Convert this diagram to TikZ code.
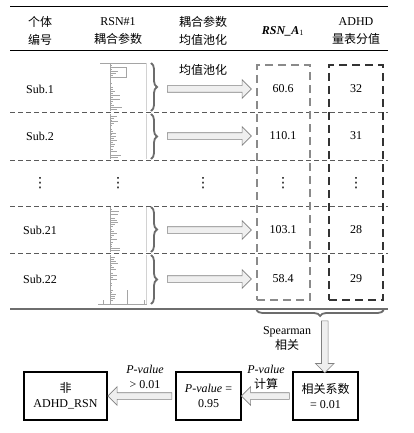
\documentclass[tikz,border=0pt]{standalone}
\usepackage{fontspec}
\setmainfont{Liberation Serif}
\newfontfamily\cjk{Noto Sans CJK SC}
\newfontfamily\sym{DejaVu Sans}
\usepackage{xcolor}
\usetikzlibrary{shapes.arrows, decorations.pathreplacing, calc, positioning}
\definecolor{ruleGray}{HTML}{6E6E6E}
\definecolor{gridGray}{HTML}{5A5A5A}
\definecolor{arrowFill}{HTML}{EFEFEF}
\definecolor{plotGray}{HTML}{A5A5A5}
\definecolor{boxGray}{HTML}{8A8A8A}

\begin{document}
\begin{tikzpicture}[x=1pt, y=-1pt,
    txt/.style={font=\fontsize{12}{18}\selectfont, align=center, inner sep=1pt},
    lbl/.style={font=\fontsize{12}{15}\selectfont, align=center, inner sep=1pt},
    dotsym/.style={font=\sym\fontsize{14}{14}\selectfont, inner sep=0pt},
    valbox/.style={draw, line width=1.4pt, minimum width=65pt, minimum height=48pt,
      align=center, font=\fontsize{12}{15}\selectfont, inner sep=2pt},
    hollow/.style={single arrow, draw=gray, fill=arrowFill, line width=0.6pt,
      minimum width=18pt, single arrow head extend=6pt, inner xsep=0pt, inner ysep=3pt},
    rowsep/.style={gridGray, dash pattern=on 5pt off 3pt, line width=0.8pt},
    pbrace/.style={decorate, decoration={brace, amplitude=6pt}, gray!85!black, line width=1.8pt}
  ]
  \useasboundingbox (0,0) rectangle (414,433);

  % table rules
  \draw[line width=1pt] (10,7) -- (388,7);
  \draw[line width=1pt] (10,51) -- (388,51);
  \draw[ruleGray, line width=2pt] (10,309) -- (388,309);

  % header
  \node[txt] (hid) at (40,31) {{\cjk 个体}\\{\cjk 编号}};
  \node[txt] (hrsn) at (118,31) {RSN\#1\\{\cjk 耦合参数}};
  \node[txt] (hpool) at (203,31) {{\cjk 耦合参数}\\{\cjk 均值池化}};
  \node[txt] (ha) at (283,31) {\textbf{\textit{RSN\_A}}$_{1}$};
  \node[txt] (hadhd) at (356,31) {ADHD\\{\cjk 量表分值}};

  % row separators
  \foreach \y in {112.5, 160, 206, 253.5}
    \draw[rowsep] (10,\y) -- (388,\y);

  % dashed columns
  \node[draw=boxGray, line width=1.1pt, dash pattern=on 8pt off 5pt,
    minimum width=53pt, minimum height=235pt] (boxA) at (283.5,182.5) {};
  \node[draw=black!80, line width=1.5pt, dash pattern=on 8pt off 5pt,
    minimum width=54pt, minimum height=235pt] (boxB) at (356,182.5) {};

  % rows
  \foreach \y/\t/\b/\sub/\a/\s [count=\i] in {
      89/63/111/Sub.1/60.6/32, 136/114/159/Sub.2/110.1/31,
      230/207/252/Sub.21/103.1/28, 279/255/304/Sub.22/58.4/29} {
    \node[txt] (sub\i) at (40,\y) {\sub};
    \node[txt] (valA\i) at (283,\y) {\a};
    \node[txt] (valB\i) at (356,\y) {\s};
    % coupling trace thumbnail
    \draw[plotGray, line width=0.5pt] (110,\t) -- (110,\b);
    \draw[plotGray!50, line width=0.5pt] (146,\t) -- (146,\b);
    \pgfmathsetseed{\i*7}
    \foreach \k in {0,...,22} {
      \pgfmathsetmacro\yy{\t+2+\k*(\b-\t-4)/22}
      \pgfmathsetmacro\len{rnd*rnd*12+1}
      \draw[plotGray, line width=0.35pt] (110,\yy) -- ++(\len,0);
    }
    \draw[pbrace] (151,\t) -- (151,\b);
    \coordinate (tip\i) at (159,\y);
    \path (tip\i) -- node[hollow, minimum height=84pt] (pool\i) {} (boxA.west |- tip\i);
  }
  \draw[plotGray, line width=0.5pt] (100,63) -- (146,63);
  \draw[plotGray, line width=0.4pt] (110,67) -- (126,67) -- (126,77) -- (110,77);
  \draw[plotGray, line width=0.5pt] (98,304) -- (147,304);
  \foreach \x in {103,127,144}
    \draw[plotGray, line width=0.4pt] (\x,304) -- (\x,300);
  \draw[plotGray, line width=0.4pt] (127,290) -- (127,304);

  % dots row
  \foreach \x [count=\j] in {40,118,203,283,356}
    \node[dotsym] (dots\j) at (\x,183) {⋮};

  \node[lbl] (poolLbl) at (203,70) {\cjk 均值池化};

  % correlation step
  \draw[pbrace] (boxB.south east |- 0,310) -- (boxA.south west |- 0,310);
  \coordinate (spTip) at (324,319);
  \node[lbl] (spLbl) at (287,338) {Spearman\\{\cjk 相关}};

  \node[valbox] (corr) at (325.5,396) {{\cjk 相关系数}\\= 0.01};
  \node[valbox] (pval) at (208.5,396) {\textit{P-value} =\\0.95};
  \node[valbox, minimum width=83pt] (nonrsn) at (65.5,396) {{\cjk 非}\\ADHD\_RSN};

  \path (spTip) -- node[hollow, shape border rotate=270, inner xsep=3pt, inner ysep=3pt,
    minimum height=52pt] (spArr) {} (corr.north);
  \path (corr.west) -- node[hollow, shape border rotate=180, minimum height=48pt] (calcArr) {} (pval.east);
  \path (pval.west) -- node[hollow, shape border rotate=180, minimum height=64pt] (gtArr) {} (nonrsn.east);

  \node[lbl] (calcLbl) at (266,377) {\textit{P-value}\\{\cjk 计算}};
  \node[lbl] (gtLbl) at (145,377) {\textit{P-value}\\> 0.01};
\end{tikzpicture}
\end{document}
